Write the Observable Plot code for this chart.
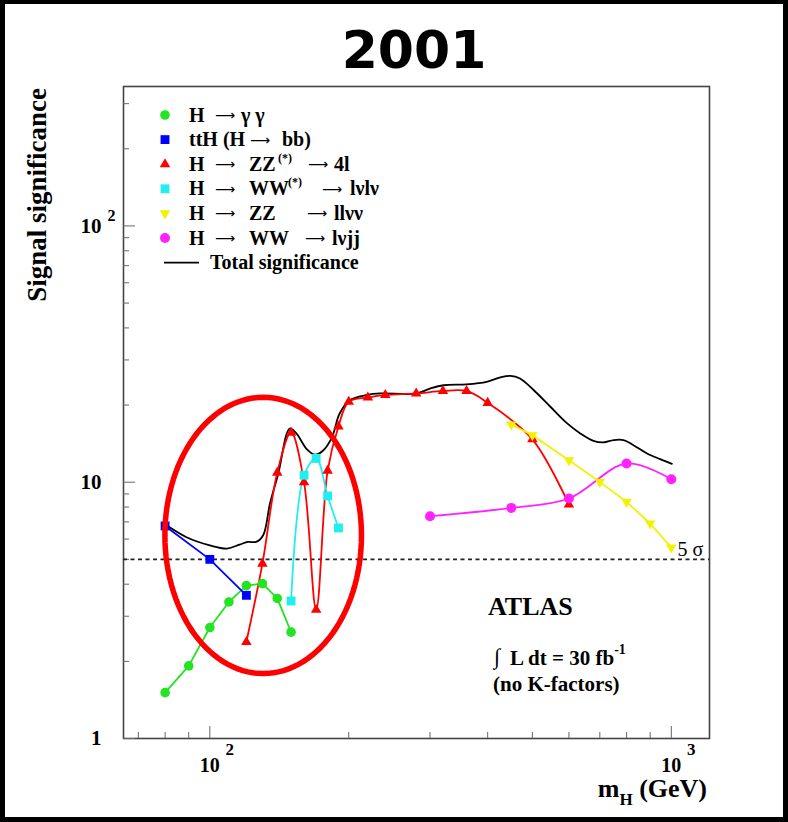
<!DOCTYPE html>
<html>
<head>
<meta charset="utf-8">
<script src="https://cdn.jsdelivr.net/npm/d3@7"></script>
<script src="https://cdn.jsdelivr.net/npm/@observablehq/plot@0.6"></script>
<style>
  html, body { margin: 0; padding: 0; background: #fff; }
  #page { position: relative; width: 788px; height: 822px; overflow: hidden; background: #fff; }
  #chart, #overlay, #border { position: absolute; left: 0; top: 0; }
  #border { width: 788px; height: 822px; box-sizing: border-box; border: 5px solid #000; border-top-width: 4px; pointer-events: none; }
  #overlay text { white-space: pre; }
  .serif, #chart svg text, #overlay .serif text { font-family: Liberation Serif, DejaVu Serif, serif !important; }
  #overlay .serif text.arrow { font-family: DejaVu Sans, sans-serif !important; }
</style>
</head>
<body>
<div id="page">
  <div id="chart"></div>
  <svg id="overlay" width="788" height="822"></svg>
  <div id="border"></div>
</div>
<script>
// ---------------- data ----------------
const titleText = "2001";

const ggMass = [80, 90, 100, 110, 120, 130, 140, 150];            // H -> gamma gamma
const ggSig  = [1.51, 1.92, 2.71, 3.41, 3.95, 4.02, 3.52, 2.60];

const tthMass = [80, 100, 120];                                    // ttH (H -> bb)
const tthSig  = [6.75, 5.0, 3.62];

const zz4lMass = [120, 130, 140, 150, 160, 170, 180, 190, 200, 220, 240, 280, 320, 360, 400, 500, 600];
const zz4lSig  = [2.38, 4.81, 10.9, 15.6, 10.0, 3.18, 11.1, 16.5, 20.6, 21.4, 21.9, 22.2, 22.7, 22.7, 20.4, 14.7, 8.18];

const wwlvlvMass = [150, 160, 170, 180, 190];
const wwlvlvSig  = [3.44, 10.65, 12.38, 8.84, 6.63];

const zzllvvMass = [450, 500, 600, 700, 800, 900, 1000];
const zzllvvSig  = [16.8, 15.26, 12.19, 10.03, 8.38, 6.9, 5.56];

const wwlvjjMass = [300, 450, 600, 800, 1000];
const wwlvjjSig  = [7.37, 7.94, 8.64, 11.83, 10.27];

const totalMass = [80, 89, 100, 109, 116, 121, 126, 130.5, 135, 140.7, 149, 154, 162, 169, 176, 184, 191, 201, 219, 234,
                   280, 300, 321, 360, 398, 426, 448, 470, 503, 547, 594, 635, 678, 713, 750, 788, 828, 886, 946, 1003];
const totalSig  = [6.85, 6.1, 5.67, 5.51, 5.71, 5.85, 5.85, 6.21, 8.26, 10.8, 16.2, 15.5, 13.5, 12.8, 13.3, 15.0, 18.5, 20.9, 21.9, 22.2,
                   22.2, 23.2, 23.9, 24.1, 24.65, 25.65, 26.0, 25.4, 22.9, 19.7, 17.0, 15.5, 14.5, 14.3, 14.6, 14.6, 13.95, 12.95, 12.3, 11.8];

const discoveryLevel = [5];
const xMajorTicks = [100, 1000];
const xMinorTicks = [70, 80, 90, 200, 300, 400, 500, 600, 700, 800, 900];
const yMajorTicks = [1, 10, 100];
const yMinorTicks = [2, 3, 4, 5, 6, 7, 8, 9, 20, 30, 40, 50, 60, 70, 80, 90, 200, 300];

// legend labels: [text, offset from text start, kind]
const legendLabels = [
  [["H", 0], ["⟶", 26, "arrow"], ["γ γ", 52]],
  [["ttH (H", 0], ["⟶", 61, "arrow"], ["bb)", 93]],
  [["H", 0], ["⟶", 26, "arrow"], ["ZZ", 60], ["(*)", 89, "sup"], ["⟶", 119, "arrow"], ["4l", 145]],
  [["H", 0], ["⟶", 26, "arrow"], ["WW", 60], ["(*)", 99, "sup"], ["⟶", 133, "arrow"], ["lνlν", 161]],
  [["H", 0], ["⟶", 26, "arrow"], ["ZZ", 60], ["⟶", 118, "arrow"], ["llνν", 145]],
  [["H", 0], ["⟶", 26, "arrow"], ["WW", 60], ["⟶", 116, "arrow"], ["lνjj", 143]],
  [["Total significance", 21]]
];

// annotation ellipse (centre and half-axes in decades)
const ellipseCenter = {mass: 130.5, sig: 6.2};
const ellipseHalfX = 0.213, ellipseHalfY = 0.539;

// ---------------- build ----------------
const rows = (mass, sig) => mass.map((m, i) => ({mass: m, sig: sig[i]}));
const series = [
  {data: rows(ggMass, ggSig),         color: "#22e422", symbol: "circle",   r: 4.8, rotate: 0,   curve: "linear"},
  {data: rows(tthMass, tthSig),       color: "#0000ff", symbol: "square",   r: 5.0, rotate: 0,   curve: "linear"},
  {data: rows(zz4lMass, zz4lSig),     color: "#ff0000", symbol: "triangle", r: 3.9, rotate: 0,   curve: "catmull-rom"},
  {data: rows(wwlvlvMass, wwlvlvSig), color: "#22eeee", symbol: "square",   r: 5.0, rotate: 0,   curve: "catmull-rom"},
  {data: rows(zzllvvMass, zzllvvSig), color: "#f2f200", symbol: "triangle", r: 3.9, rotate: 180, curve: "linear"},
  {data: rows(wwlvjjMass, wwlvjjSig), color: "#ff22ff", symbol: "circle",   r: 5.0, rotate: 0,   curve: "catmull-rom"}
];

const ellipsePts = d3.range(0, 361, 3).map(a => {
  const t = a * Math.PI / 180;
  return {mass: ellipseCenter.mass * 10 ** (ellipseHalfX * Math.cos(t)),
          sig: ellipseCenter.sig * 10 ** (ellipseHalfY * Math.sin(t))};
});

const serif = "Liberation Serif, DejaVu Serif, serif";
const tickColor = "#666";

const marks = [
  Plot.frame({stroke: "#444", strokeWidth: 1.6}),
  Plot.axisX({ticks: xMajorTicks, tickSize: -12, tickFormat: () => "", stroke: tickColor, label: null}),
  Plot.axisX({ticks: xMinorTicks, tickSize: -6, tickFormat: () => "", stroke: tickColor, label: null}),
  Plot.axisX({ticks: xMajorTicks, tickSize: 0, tickPadding: 19, tickFormat: () => "10",
              fontSize: 20, fontWeight: "bold", label: null}),
  Plot.axisX({ticks: xMajorTicks, tickSize: 0, tickPadding: 4, tickFormat: d => String(Math.round(Math.log10(d))),
              dx: 20, fontSize: 17, fontWeight: "bold", label: null}),
  Plot.axisY({ticks: yMajorTicks, tickSize: -12, tickFormat: () => "", stroke: tickColor, label: null}),
  Plot.axisY({ticks: yMinorTicks, tickSize: -6, tickFormat: () => "", stroke: tickColor, label: null}),
  Plot.axisY({ticks: yMajorTicks, tickSize: 0, tickPadding: 22, tickFormat: d => d >= 100 ? "10" : String(d),
              fontSize: 21, fontWeight: "bold", label: null}),
  Plot.axisY({ticks: [100], tickSize: 0, tickPadding: 16, textAnchor: "start", dy: -10,
              tickFormat: d => String(Math.round(Math.log10(d))),
              fontSize: 16, fontWeight: "bold", label: null}),
  Plot.ruleY(discoveryLevel, {stroke: "#222", strokeWidth: 1.8, strokeDasharray: "4,3.5"}),
  Plot.text(discoveryLevel, {y: d => d, text: d => `${d} σ`, frameAnchor: "right", textAnchor: "start",
             lineAnchor: "bottom", dx: -32, dy: -3, fontSize: 20}),
  Plot.line(rows(totalMass, totalSig), {x: "mass", y: "sig", stroke: "#000", strokeWidth: 1.8, curve: "catmull-rom"})
];
for (const s of series) {
  marks.push(Plot.line(s.data, {x: "mass", y: "sig", stroke: s.color, strokeWidth: 1.8, curve: s.curve}));
}
for (const s of series) {
  marks.push(Plot.dot(s.data, {x: "mass", y: "sig", fill: s.color, stroke: null, symbol: s.symbol, r: s.r, rotate: s.rotate}));
}
marks.push(Plot.line(ellipsePts, {x: "mass", y: "sig", stroke: "#ff0000", strokeWidth: 5.5}));

const chart = Plot.plot({
  width: 788,
  height: 822,
  marginLeft: 123,
  marginRight: 79,
  marginTop: 86,
  marginBottom: 84,
  x: {type: "log", domain: [65, 1210], label: null},
  y: {type: "log", domain: [1, 350], label: null},
  style: {fontFamily: serif, background: "transparent", overflow: "visible"},
  marks
});
document.getElementById("chart").appendChild(chart);

// ---------------- overlay texts ----------------
const ov = d3.select("#overlay");
ov.append("text").attr("x", 414).attr("y", 68).attr("text-anchor", "middle")
  .style("font-family", "DejaVu Sans, Verdana, sans-serif").attr("font-weight", "bold")
  .attr("font-size", 52).text(titleText);

const sg = ov.append("g").attr("class", "serif");

sg.append("text").attr("transform", "translate(46,88) rotate(-90)").attr("text-anchor", "end")
  .attr("font-weight", "bold").attr("font-size", 27).text("Signal significance");

const xt = sg.append("text").attr("x", 707).attr("y", 797).attr("text-anchor", "end")
  .attr("font-weight", "bold").attr("font-size", 26);
xt.append("tspan").text("m");
xt.append("tspan").attr("dy", 8).attr("font-size", 17).text("H");
xt.append("tspan").attr("dy", -8).text(" (GeV)");

// legend
const lg = sg.append("g").attr("font-weight", "bold").attr("font-size", 20);
const legendX = 189;
const legendY = i => 115 + i * 24.6;
series.forEach((s, i) => {
  const sym = d3.symbol().type({circle: d3.symbolCircle, square: d3.symbolSquare, triangle: d3.symbolTriangle}[s.symbol])
    .size(Math.PI * s.r * s.r);
  lg.append("path").attr("d", sym()).attr("fill", s.color)
    .attr("transform", `translate(165,${legendY(i)}) rotate(${s.rotate})`);
});
lg.append("line").attr("x1", 164).attr("x2", 199).attr("y1", legendY(6)).attr("y2", legendY(6))
  .attr("stroke", "#000").attr("stroke-width", 1.8);
legendLabels.forEach((parts, i) => {
  const base = legendY(i) + 6.5;
  parts.forEach(([str, off, kind]) => {
    const t = lg.append("text").attr("x", legendX + off).attr("y", base).text(str);
    if (kind === "sup") t.attr("y", base - 9).attr("font-size", 12);
    if (kind === "arrow") t.attr("class", "arrow").attr("font-weight", "normal").attr("font-size", 14).attr("y", base - 1.5);
  });
});

// ATLAS box
const at = sg.append("g").attr("font-weight", "bold");
at.append("text").attr("x", 488).attr("y", 615).attr("font-size", 26).text("ATLAS");
at.append("text").attr("x", 494).attr("y", 664).attr("font-size", 22).attr("font-weight", "normal").text("∫");
const lum = at.append("text").attr("x", 510).attr("y", 665).attr("font-size", 21);
lum.append("tspan").text("L dt = 30 fb");
lum.append("tspan").attr("dy", -11).attr("font-size", 14).text("-1");
at.append("text").attr("x", 493).attr("y", 691).attr("font-size", 21).text("(no K-factors)");
</script>
</body>
</html>
